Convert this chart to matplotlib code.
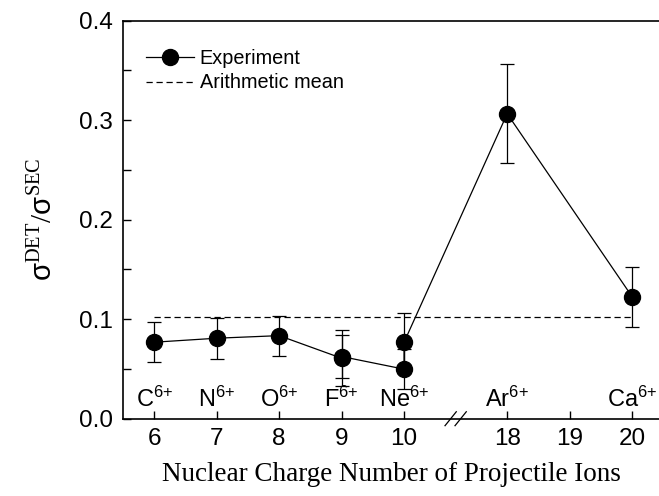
import matplotlib
matplotlib.use("Agg")
import matplotlib.pyplot as plt
from matplotlib.lines import Line2D
import numpy as np

# Data
z_values = [6, 7, 8, 9, 9, 10, 10, 18, 20]
ratio = [0.0769, 0.0809, 0.0835, 0.0608, 0.0625, 0.0498, 0.0769, 0.3065, 0.1226]
ratio_err = [0.0200, 0.0205, 0.0200, 0.0284, 0.0217, 0.0203, 0.0295, 0.0498, 0.0300]
mean_value = 0.102
ions = ["C", "N", "O", "F", "Ne", "Ar", "Ca"]
ion_z = [6, 7, 8, 9, 10, 18, 20]
xtick_values = [6, 7, 8, 9, 10, 18, 19, 20]
ytick_values = [0.0, 0.1, 0.2, 0.3, 0.4]

GAP_SHIFT = 6.35  # broken axis: values >= 18 shifted left


def xpos(z):
    z = np.asarray(z, dtype=float)
    return np.where(z >= 18, z - GAP_SHIFT, z)


plt.rcParams['font.family'] = ['Liberation Sans', 'DejaVu Sans']
plt.rcParams['mathtext.fontset'] = 'custom'
plt.rcParams['mathtext.rm'] = 'Liberation Serif'
plt.rcParams['mathtext.it'] = 'Liberation Sans:italic'
plt.rcParams['mathtext.sf'] = 'Liberation Sans'

fig = plt.figure(figsize=(6.59, 4.96), dpi=100)
ax = fig.add_axes([0.1866, 0.1558, 0.8134, 0.8025])

xp = xpos(z_values)
ax.errorbar(xp, ratio, yerr=ratio_err, fmt='o-', color='black', ms=11.5,
            lw=0.9, elinewidth=0.9, capsize=5, capthick=0.9, zorder=3)
mx = xpos([min(z_values), max(z_values)])
ax.plot(mx, [mean_value, mean_value], ls=(0, (5, 3)), color='black', lw=0.9)

for name, z in zip(ions, ion_z):
    ax.text(float(xpos(z)), 0.007, name + r'$^{\mathsf{6{+}}}$', ha='center', va='bottom',
            fontsize=17)

ax.set_xlim(5.5, 14.08)
ax.set_ylim(0, 0.4)
ax.set_xticks(xpos(xtick_values))
ax.set_xticklabels([str(v) for v in xtick_values])
ax.set_yticks(ytick_values)
ax.set_yticklabels([f"{v:.1f}" for v in ytick_values])
ax.set_yticks([0.05, 0.15, 0.25, 0.35], minor=True)
ax.tick_params(axis='both', which='major', direction='in', length=6, width=1,
               labelsize=17.5, pad=7)
ax.tick_params(axis='y', which='minor', direction='in', length=6, width=1)
for s in ['left', 'bottom', 'top']:
    ax.spines[s].set_linewidth(1.2)
ax.spines['right'].set_visible(False)

# break marks
bx = float((xpos(10) + xpos(18)) / 2)
for dx in (-0.08, 0.08):
    ax.plot([bx + dx - 0.09, bx + dx + 0.09], [-0.007, 0.007], color='black',
            lw=0.9, clip_on=False, zorder=5)

ax.set_xlabel('Nuclear Charge Number of Projectile Ions', fontsize=19.5,
              family='Liberation Serif', labelpad=8)
ax.set_ylabel(r'$\mathsf{\sigma}^{\mathrm{DET}}/\mathsf{\sigma}^{\mathrm{SEC}}$',
              fontsize=21, labelpad=16)

handles = [Line2D([], [], color='black', marker='o', ms=11.5, lw=0.9),
           Line2D([], [], color='black', ls=(0, (5, 3)), lw=0.9)]
ax.legend(handles, ['Experiment', 'Arithmetic mean'], loc='upper left',
          bbox_to_anchor=(0.01, 0.975), frameon=False, fontsize=14.3,
          handlelength=2.4, handletextpad=0.3, labelspacing=0.3)

fig.savefig('out.png', dpi=100)
